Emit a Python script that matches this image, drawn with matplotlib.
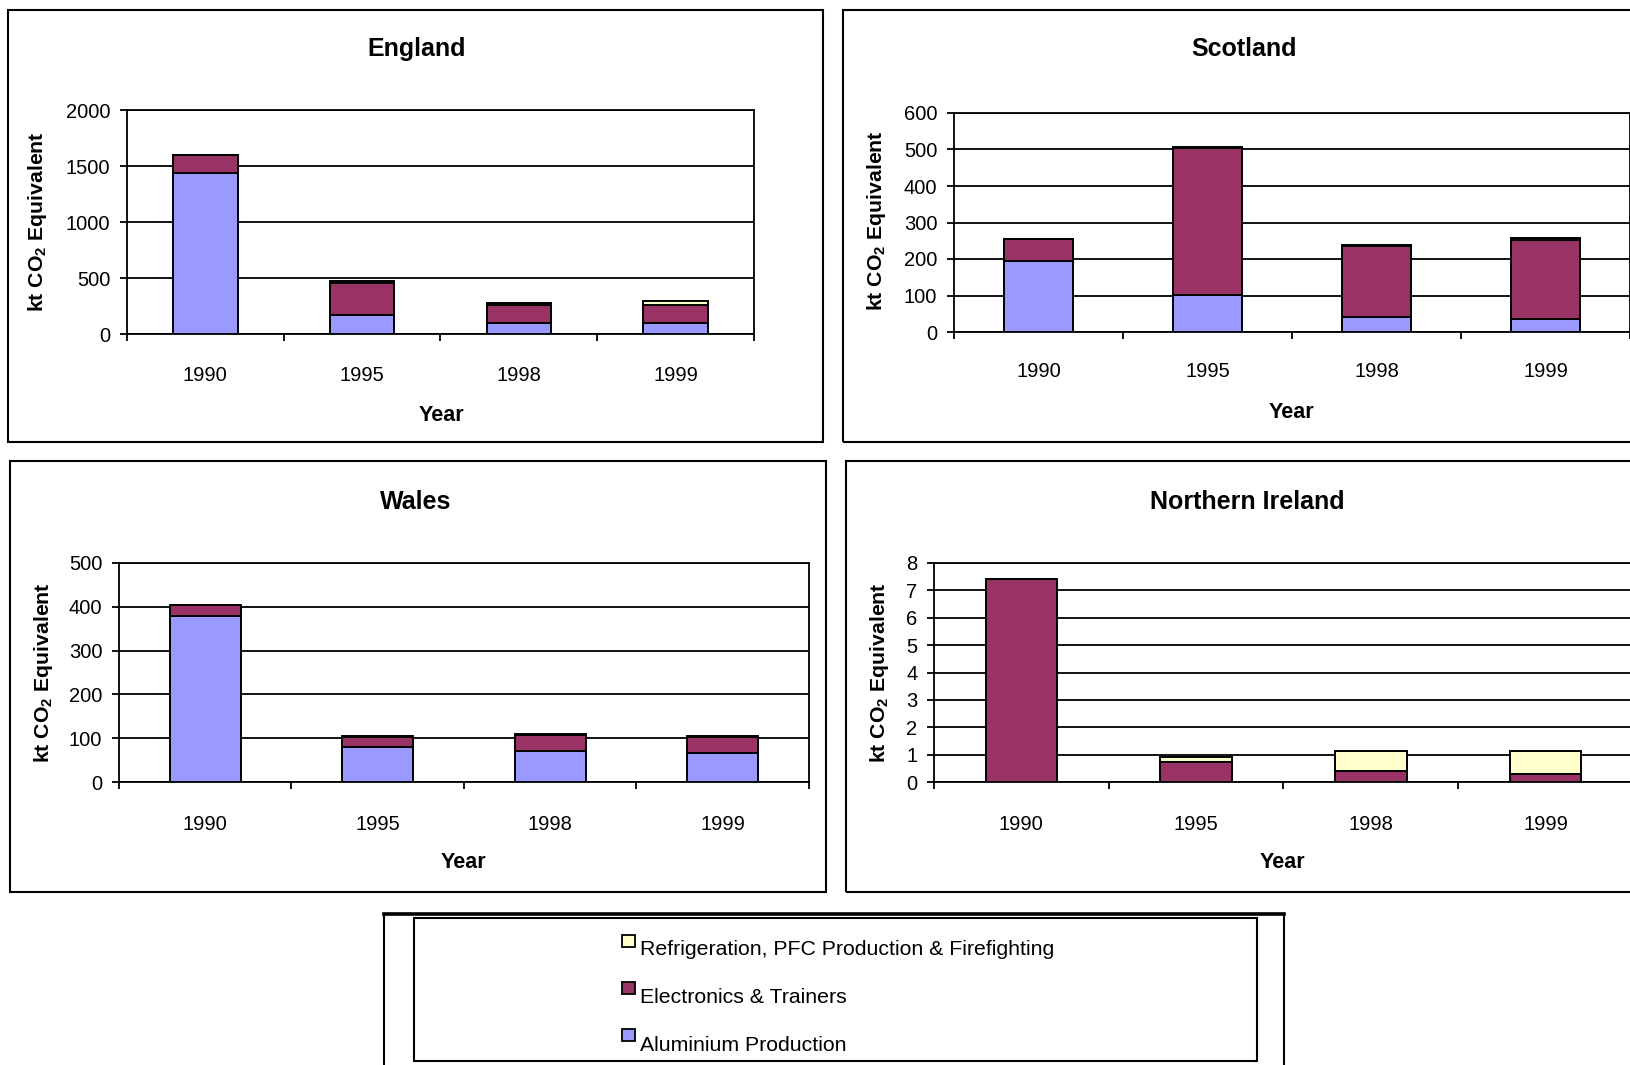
import matplotlib
matplotlib.use("Agg")
import matplotlib.pyplot as plt
from matplotlib.patches import Rectangle
from matplotlib.lines import Line2D
import numpy as np

plt.rcParams["font.family"] = ["Liberation Sans", "DejaVu Sans"]
plt.rcParams["mathtext.fontset"] = "custom"
plt.rcParams["mathtext.rm"] = "Liberation Sans"
plt.rcParams["mathtext.bf"] = "Liberation Sans:bold"
plt.rcParams["mathtext.default"] = "bf"

# ---- data (kt CO2 equivalent) ----
years = ["1990", "1995", "1998", "1999"]
series_names = ["Aluminium Production",
                "Electronics & Trainers",
                "Refrigeration, PFC Production & Firefighting"]
series_colors = ["#9999FF", "#993366", "#FFFFCC"]

england_alu = [1440, 173, 101, 100]
england_elec = [162, 285, 157, 160]
england_refr = [0, 15, 15, 38]

scotland_alu = [195, 102, 41, 36]
scotland_elec = [60, 403, 195, 216]
scotland_refr = [0, 3, 3, 6]

wales_alu = [380, 80, 71, 67]
wales_elec = [25, 23, 37, 36]
wales_refr = [0, 2, 2, 2]

ni_alu = [0, 0, 0, 0]
ni_elec = [7.4, 0.72, 0.42, 0.28]
ni_refr = [0, 0.21, 0.73, 0.87]

W, H = 1631, 1065
fig = plt.figure(figsize=(W / 100, H / 100), dpi=100)


def fx(x):
    return x / W


def fy(y):
    return 1 - y / H


def frame(l, t, r, b, lw=1.5):
    fig.patches.append(Rectangle((fx(l), fy(b)), fx(r) - fx(l), fy(t) - fy(b),
                                 transform=fig.transFigure, fill=False,
                                 edgecolor="black", linewidth=lw, clip_on=False))


panels = [
    dict(name="England", data=(england_alu, england_elec, england_refr),
         ax=(127, 110, 754, 334), box=(8, 10, 823, 442), ymax=2000, step=500,
         title=(417, 49), xlab=(441, 415), ylab=(38, 222), xpad=23),
    dict(name="Scotland", data=(scotland_alu, scotland_elec, scotland_refr),
         ax=(954, 113, 1630, 332), box=(843, 10, 1645, 442), ymax=600, step=100,
         title=(1244, 49), xlab=(1291, 413), ylab=(877, 221), xpad=21.5),
    dict(name="Wales", data=(wales_alu, wales_elec, wales_refr),
         ax=(119, 563, 809, 782), box=(10, 461, 826, 892), ymax=500, step=100,
         title=(416, 502), xlab=(463, 863), ylab=(44, 673), xpad=23.5),
    dict(name="Northern Ireland", data=(ni_alu, ni_elec, ni_refr),
         ax=(934, 563, 1633, 782), box=(846, 461, 1645, 892), ymax=8, step=1,
         title=(1247, 502), xlab=(1282, 863), ylab=(880, 673), xpad=23.5),
]

x = np.arange(len(years))
bar_w = 0.41

for p in panels:
    l, t, r, b = p["ax"]
    ax = fig.add_axes([fx(l), fy(b), fx(r) - fx(l), fy(t) - fy(b)])
    ax.set_axisbelow(True)
    bottom = np.zeros(len(years))
    for vals, col in zip(p["data"], series_colors):
        ax.bar(x, vals, bar_w, bottom=bottom, color=col, edgecolor="black",
               linewidth=1.4, zorder=3)
        bottom = bottom + np.asarray(vals, dtype=float)
    ax.set_xlim(-0.5, len(years) - 0.5)
    ax.set_ylim(0, p["ymax"])
    ax.set_yticks(np.arange(0, p["ymax"] + p["step"] / 2, p["step"]))
    ax.set_yticklabels([f"{v:g}" for v in ax.get_yticks()])
    ax.yaxis.grid(True, color="black", linewidth=1.3)
    ax.set_xticks(x, years)
    ax.set_xticks(np.arange(-0.5, len(years)), minor=True)
    ax.tick_params(axis="x", which="major", length=0, pad=p["xpad"], labelsize=14.5)
    ax.tick_params(axis="x", which="minor", length=5, width=1.3, direction="out")
    ax.tick_params(axis="y", length=5, width=1.3, direction="out", pad=7, labelsize=14.5)
    for s in ax.spines.values():
        s.set_linewidth(1.3)
    frame(*p["box"])
    fig.text(fx(p["title"][0]), fy(p["title"][1]), p["name"], ha="center",
             va="center", fontsize=18, fontweight="bold")
    fig.text(fx(p["xlab"][0]), fy(p["xlab"][1]), "Year", ha="center",
             va="center", fontsize=15.5, fontweight="bold")
    fig.text(fx(p["ylab"][0]), fy(p["ylab"][1]), r"kt CO$_2$ Equivalent",
             ha="center", va="center", rotation=90, fontsize=15.3, fontweight="bold")

# ---- legend block ----
frame(384, 914, 1284, 1080, lw=1.5)
fig.lines.append(Line2D([fx(384), fx(1284)], [fy(914), fy(914)],
                        transform=fig.transFigure, color="black", linewidth=2.6))
frame(414, 918, 1257, 1061, lw=1.5)
rows = [(2, 947, 955), (1, 994, 1003), (0, 1041, 1051)]
for idx, mk_bottom, baseline in rows:
    fig.patches.append(Rectangle((fx(622), fy(mk_bottom)), fx(635) - fx(622),
                                 fy(mk_bottom - 12) - fy(mk_bottom),
                                 transform=fig.transFigure,
                                 facecolor=series_colors[idx], edgecolor="black",
                                 linewidth=1.3))
    fig.text(fx(640), fy(baseline), series_names[idx], ha="left",
             va="baseline", fontsize=15.3)

fig.savefig("out.png", dpi=100)
